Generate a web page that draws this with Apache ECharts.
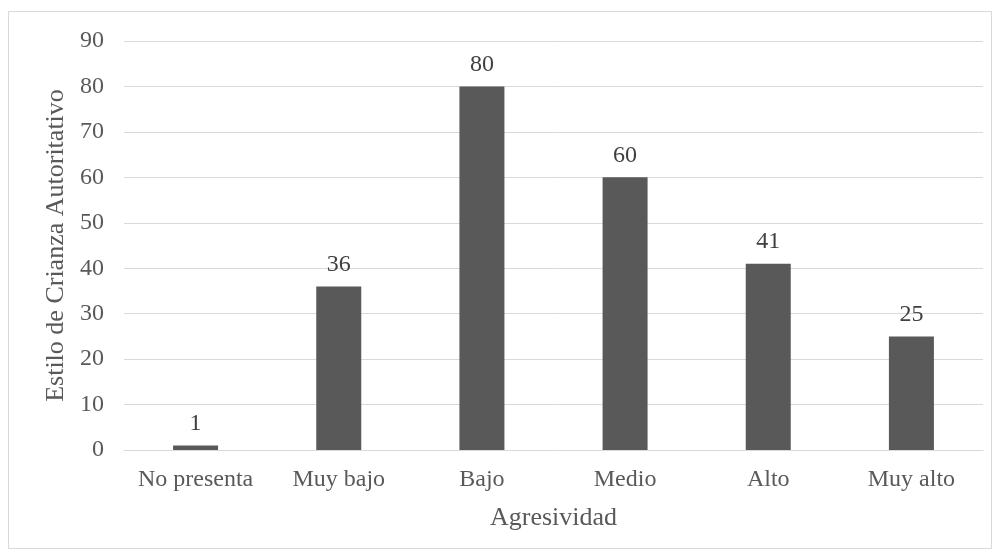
<!DOCTYPE html>
<html><head><meta charset="utf-8">
<script src="https://cdn.jsdelivr.net/npm/echarts@6/dist/echarts.min.js"></script>
<style>html,body{margin:0;padding:0;background:#fff}#c{width:1000px;height:557px}</style>
</head><body><div id="c"></div>
<script>
const categories = ["No presenta","Muy bajo","Bajo","Medio","Alto","Muy alto"];
const values = [1,36,80,60,41,25];
const xTitle = "Agresividad";
const yTitle = "Estilo de Crianza Autoritativo";
const FONT = "'Liberation Serif','Times New Roman',serif";
const chart = echarts.init(document.getElementById('c'));
chart.setOption({
  animation:false,
  textStyle:{fontFamily:FONT},
  graphic:[{type:'rect',shape:{x:8.5,y:11.5,width:983,height:537},style:{fill:'none',stroke:'#d9d9d9',lineWidth:1}}],
  grid:{left:124,right:17,top:41,bottom:107},
  xAxis:{type:'category',data:categories,
    axisLine:{lineStyle:{color:'#d9d9d9',width:1}},axisTick:{show:false},
    axisLabel:{color:'#595959',fontSize:24,fontFamily:FONT,margin:18,interval:0,hideOverlap:false},
    name:xTitle,nameLocation:'middle',nameGap:55,
    nameTextStyle:{color:'#595959',fontSize:26,fontFamily:FONT}},
  yAxis:{type:'value',min:0,max:90,interval:10,
    splitLine:{lineStyle:{color:'#d9d9d9',width:1}},
    axisLine:{show:false},axisTick:{show:false},
    axisLabel:{color:'#595959',fontSize:24,fontFamily:FONT,margin:20},
    name:yTitle,nameLocation:'middle',nameGap:41,nameRotate:90,
    nameTextStyle:{color:'#595959',fontSize:26,fontFamily:FONT}},
  series:[{type:'bar',data:values,barWidth:45,
    itemStyle:{color:'#595959'},
    label:{show:true,position:'top',distance:10,color:'#404040',fontSize:24,fontFamily:FONT}}]
});
</script></body></html>
